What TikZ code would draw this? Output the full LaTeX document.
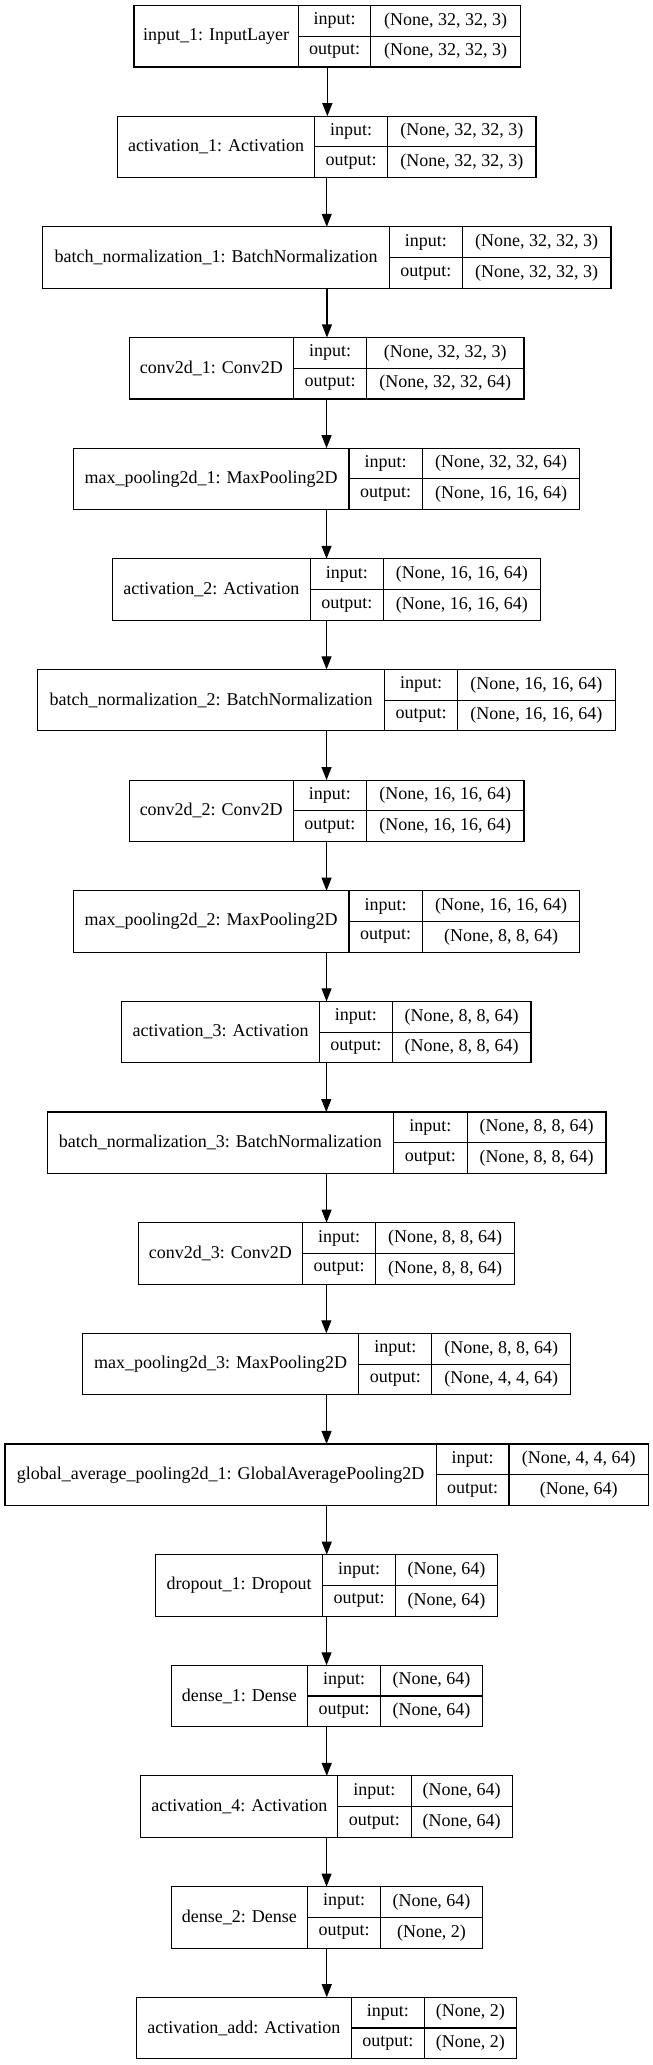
\documentclass[tikz,border=0pt]{standalone}
\usepackage{fontspec}
\setmainfont{Liberation Serif}
\usetikzlibrary{arrows.meta}
\tikzset{
  cell/.style={draw=none, inner sep=0pt, outer sep=0pt, minimum height=30.75pt},
  namecell/.style={cell, minimum height=61.5pt},
  boxarea/.style={draw=none, inner sep=0pt, outer sep=0pt, minimum height=61.5pt},
  border/.style={draw=black, line width=1.1pt},
  arr/.style={line width=1.1pt, -{Triangle[length=13pt,width=10pt]}}
}
% #1 index, #2 left, #3 div1, #4 div2, #5 right, #6 name, #7 input shape, #8 output shape
\newcommand\mylayer[8]{%
  \pgfmathsetmacro\myT{5.5+110.65*#1}%
  \node[boxarea, minimum width={#5-#2}] (L#1) at ({(#2+#5)/2},{\myT+30.75}) {};
  \node[namecell, minimum width={#3-#2}] (name#1) at ({(#2+#3)/2},{\myT+30.75}) {#6};
  \node[cell, minimum width={#4-#3}] (inl#1) at ({(#3+#4)/2},{\myT+15.375}) {input:};
  \node[cell, minimum width={#4-#3}] (outl#1) at ({(#3+#4)/2},{\myT+46.125}) {output:};
  \node[cell, minimum width={#5-#4}] (ins#1) at ({(#4+#5)/2},{\myT+15.375}) {#7};
  \node[cell, minimum width={#5-#4}] (outs#1) at ({(#4+#5)/2},{\myT+46.125}) {#8};
  \draw[border] (L#1.north west) rectangle (L#1.south east);
  \draw[border] (name#1.north east) -- (name#1.south east);
  \draw[border] (inl#1.north east) -- (outl#1.south east);
  \draw[border] (inl#1.south west) -- (ins#1.south east);
}
\begin{document}
\begin{tikzpicture}[x=1pt,y=-1pt,font=\fontsize{18}{21}\selectfont]
\useasboundingbox[fill=white] (0,0) rectangle (653,2065);
\mylayer{0}{134}{298.3}{370.7}{520.7}{input\_1: InputLayer}{(None, 32, 32, 3)}{(None, 32, 32, 3)}
\mylayer{1}{117.5}{314.5}{387.8}{536.0}{activation\_1: Activation}{(None, 32, 32, 3)}{(None, 32, 32, 3)}
\mylayer{2}{42.9}{389.4}{462.3}{611.0}{batch\_normalization\_1: BatchNormalization}{(None, 32, 32, 3)}{(None, 32, 32, 3)}
\mylayer{3}{129.1}{293.6}{366.5}{524.0}{conv2d\_1: Conv2D}{(None, 32, 32, 3)}{(None, 32, 32, 64)}
\mylayer{4}{73.3}{349.0}{422.3}{579.8}{max\_pooling2d\_1: MaxPooling2D}{(None, 32, 32, 64)}{(None, 16, 16, 64)}
\mylayer{5}{112.5}{310.3}{383.2}{540.6}{activation\_2: Activation}{(None, 16, 16, 64)}{(None, 16, 16, 64)}
\mylayer{6}{37.9}{384.4}{457.7}{615.2}{batch\_normalization\_2: BatchNormalization}{(None, 16, 16, 64)}{(None, 16, 16, 64)}
\mylayer{7}{129.1}{293.4}{366.5}{524.0}{conv2d\_2: Conv2D}{(None, 16, 16, 64)}{(None, 16, 16, 64)}
\mylayer{8}{73.3}{349.0}{422.3}{579.8}{max\_pooling2d\_2: MaxPooling2D}{(None, 16, 16, 64)}{(None, 8, 8, 64)}
\mylayer{9}{121.6}{319.4}{392.3}{531.0}{activation\_3: Activation}{(None, 8, 8, 64)}{(None, 8, 8, 64)}
\mylayer{10}{47.1}{393.6}{467.3}{606.0}{batch\_normalization\_3: BatchNormalization}{(None, 8, 8, 64)}{(None, 8, 8, 64)}
\mylayer{11}{138.3}{302.4}{375.7}{514.4}{conv2d\_3: Conv2D}{(None, 8, 8, 64)}{(None, 8, 8, 64)}
\mylayer{12}{82.5}{358.6}{431.9}{570.6}{max\_pooling2d\_3: MaxPooling2D}{(None, 8, 8, 64)}{(None, 4, 4, 64)}
\mylayer{13}{5.0}{436.1}{509.0}{648.5}{global\_average\_pooling2d\_1: GlobalAveragePooling2D}{(None, 4, 4, 64)}{(None, 64)}
\mylayer{14}{155.8}{322.4}{395.7}{497.3}{dropout\_1: Dropout}{(None, 64)}{(None, 64)}
\mylayer{15}{171.2}{307.4}{380.7}{482.3}{dense\_1: Dense}{(None, 64)}{(None, 64)}
\mylayer{16}{140.8}{337.8}{411.1}{512.3}{activation\_4: Activation}{(None, 64)}{(None, 64)}
\mylayer{17}{171.2}{307.4}{380.7}{482.3}{dense\_2: Dense}{(None, 64)}{(None, 2)}
\mylayer{18}{136.6}{351.1}{424.4}{516.5}{activation\_add: Activation}{(None, 2)}{(None, 2)}
\foreach \i [evaluate=\i as \j using int(\i+1)] in {0,...,17}{
  \draw[arr] (L\i.south) -- (L\i.south |- L\j.north);
}
\end{tikzpicture}
\end{document}
